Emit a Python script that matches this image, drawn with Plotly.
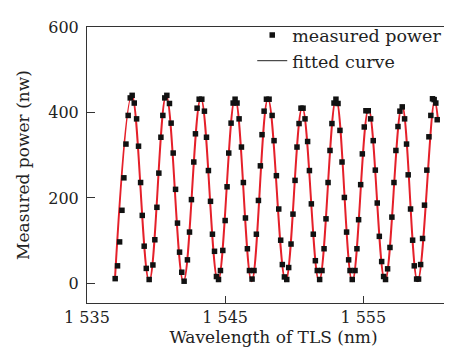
import plotly.graph_objects as go

# Measured points (wavelength nm, power nW)
wavelength = [
    1537.04, 1537.21, 1537.36, 1537.53, 1537.67, 1537.82, 1537.98, 1538.13, 1538.27, 1538.42,
    1538.59, 1538.73, 1538.88, 1539.00, 1539.14, 1539.29, 1539.50, 1539.77, 1539.91, 1540.06,
    1540.20, 1540.35, 1540.49, 1540.63, 1540.78, 1540.97, 1541.09, 1541.24, 1541.41, 1541.55,
    1541.70, 1541.86, 1542.03, 1542.27, 1542.42, 1542.56, 1542.73, 1542.85, 1542.97, 1543.12,
    1543.31, 1543.50, 1543.65, 1543.79, 1543.94, 1544.08, 1544.23, 1544.37, 1544.52, 1544.66,
    1544.83, 1545.00, 1545.14, 1545.26, 1545.43, 1545.58, 1545.72, 1545.86, 1546.01, 1546.18,
    1546.32, 1546.47, 1546.61, 1546.76, 1546.95, 1547.09, 1547.26, 1547.41, 1547.55, 1547.67,
    1547.82, 1547.99, 1548.18, 1548.40, 1548.54, 1548.71, 1548.88, 1549.02, 1549.14, 1549.29,
    1549.46, 1549.60, 1549.77, 1549.91, 1550.06, 1550.20, 1550.35, 1550.49, 1550.64, 1550.78,
    1550.97, 1551.10, 1551.24, 1551.38, 1551.53, 1551.67, 1551.84, 1552.01, 1552.16, 1552.30,
    1552.45, 1552.59, 1552.73, 1552.88, 1553.02, 1553.17, 1553.31, 1553.46, 1553.63, 1553.79,
    1553.94, 1554.04, 1554.20, 1554.40, 1554.54, 1554.66, 1554.81, 1554.93, 1555.07, 1555.19,
    1555.36, 1555.53, 1555.72, 1555.87, 1556.01, 1556.16, 1556.33, 1556.47, 1556.61, 1556.76,
    1556.93, 1557.07, 1557.22, 1557.36, 1557.51, 1557.65, 1557.82, 1557.99, 1558.13, 1558.25,
    1558.42, 1558.57, 1558.69, 1558.86, 1559.00, 1559.15, 1559.29, 1559.43, 1559.60, 1559.75,
    1559.89, 1560.01, 1560.13, 1560.25, 1560.35,
]
measured_power = [
    11, 41, 97, 171, 247, 326, 393, 434, 440, 422,
    385, 321, 236, 159, 87, 35, 9, 43, 102, 178,
    258, 342, 393, 434, 440, 421, 375, 305, 220, 141,
    73, 26, 5, 55, 120, 196, 284, 350, 410, 431,
    431, 403, 342, 264, 192, 115, 75, 16, 9, 30,
    77, 147, 226, 305, 375, 422, 431, 422, 385, 319,
    236, 153, 81, 30, 10, 30, 115, 194, 275, 348,
    403, 431, 431, 393, 334, 252, 174, 101, 44, 15,
    9, 37, 92, 162, 241, 319, 374, 410, 410, 385,
    332, 264, 186, 115, 53, 30, 9, 30, 81, 151,
    236, 311, 374, 422, 431, 421, 358, 284, 201, 120,
    55, 30, 9, 30, 81, 149, 231, 303, 366, 404,
    404, 385, 334, 265, 188, 110, 51, 16, 9, 34,
    84, 155, 236, 311, 367, 403, 413, 385, 326, 254,
    174, 101, 41, 10, 10, 44, 105, 183, 265, 343,
    393, 432, 430, 422, 383,
]

# Fitted curve: extrema (drawn with a spline)
fit_wavelength = [
    1537.02, 1538.25, 1539.50, 1540.73, 1541.98, 1543.24, 1544.48, 1545.72, 1546.92, 1548.10,
    1549.38, 1550.58, 1551.80, 1553.03, 1554.20, 1555.38, 1556.57, 1557.80, 1558.93, 1560.16,
    1560.42,
]
fit_power = [
    8, 440, 5, 440, 4, 434, 5, 433, 5, 432,
    5, 412, 5, 432, 5, 408, 5, 416, 5, 427,
    378,
]

x_tickvals = [1535, 1545, 1555]
x_ticktext = ["1 535", "1 545", "1 555"]
y_tickvals = [0, 200, 400, 600]

FONT = "DejaVu Serif"
TXT = "#222222"

fig = go.Figure()
fig.add_trace(go.Scatter(
    x=fit_wavelength, y=fit_power, mode="lines", name="fitted curve",
    line=dict(color="#e5202a", width=2, shape="spline", smoothing=1.1),
    showlegend=False,
))
fig.add_trace(go.Scatter(
    x=wavelength, y=measured_power, mode="markers", name="measured power",
    marker=dict(symbol="square", size=5.5, color="#111111"),
))
# legend-only black line entry for the fitted curve
fig.add_trace(go.Scatter(
    x=[None], y=[None], mode="lines", name="fitted curve",
    line=dict(color="#222222", width=1),
))

fig.update_layout(
    width=452, height=349,
    margin=dict(l=79, r=0, t=19, b=54),
    paper_bgcolor="white", plot_bgcolor="white",
    font=dict(family=FONT, size=16, color=TXT),
    legend=dict(
        x=0.443, y=1.036, xanchor="left", yanchor="top",
        bgcolor="rgba(0,0,0,0)", font=dict(family=FONT, size=17.5, color=TXT),
        tracegroupgap=0, itemwidth=30,
    ),
    xaxis=dict(
        range=[1535, 1562], tickvals=x_tickvals, ticktext=x_ticktext,
        ticks="inside", ticklen=7, tickcolor="#333", showgrid=False, zeroline=False,
        showline=True, linecolor="#333", linewidth=1, mirror=True,
        ticklabelstandoff=0,
        title=dict(text="Wavelength of TLS (nm)", font=dict(family=FONT, size=17, color=TXT), standoff=2),
        automargin=False,
    ),
    yaxis=dict(
        range=[-46, 600], tickvals=y_tickvals,
        ticks="inside", ticklen=8, tickcolor="#333", showgrid=False, zeroline=False,
        showline=True, linecolor="#333", linewidth=1, mirror=False,
        ticklabelstandoff=4,
        title=dict(text="Measured power (nw)", font=dict(family=FONT, size=17, color=TXT), standoff=14),
        automargin=False,
    ),
)

fig.write_html("out.html")
